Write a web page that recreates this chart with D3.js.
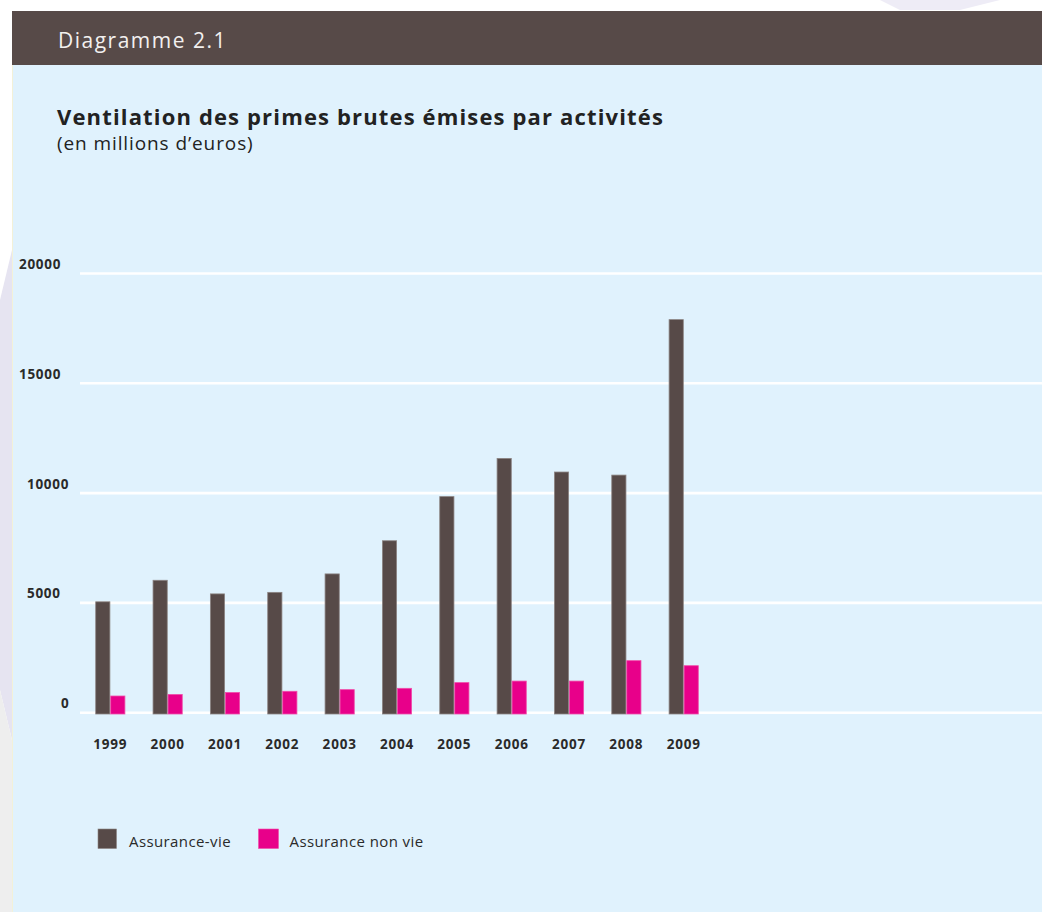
<!DOCTYPE html>
<html>
<head>
<meta charset="utf-8">
<script src="https://cdn.jsdelivr.net/npm/d3@7"></script>
<style>
  html, body { margin: 0; padding: 0; background: #ffffff; }
  svg { display: block; }
</style>
</head>
<body>
<svg id="chart" width="1042" height="912"></svg>
<script>
// ---- data ----
const years = ["1999", "2000", "2001", "2002", "2003", "2004", "2005", "2006", "2007", "2008", "2009"];
const assuranceVie = [5050, 6030, 5410, 5480, 6320, 7830, 9840, 11580, 10960, 10820, 17900];
const assuranceNonVie = [760, 830, 920, 975, 1050, 1110, 1370, 1440, 1440, 2370, 2140];
const yTicks = [0, 5000, 10000, 15000, 20000];
const seriesNames = ["Assurance-vie", "Assurance non vie"];
const seriesColors = ["#574a48", "#e8008a"];
const seriesStrokes = ["#8c8483", "#f04ca8"];
const headerText = "Diagramme 2.1";
const titleText = "Ventilation des primes brutes émises par activités";
const subtitleText = "(en millions d\u2019euros)";

// ---- drawing ----
const svg = d3.select("#chart");
const W = 1042, H = 912;
const font = "'Open Sans', 'Noto Sans', sans-serif";

// outer decorative background
svg.append("rect").attr("x", 0).attr("y", 0).attr("width", W).attr("height", H).attr("fill", "#ffffff");
svg.append("path").attr("d", "M0,300 L12,250 L12,740 L0,690 Z").attr("fill", "#e6e4f1");
svg.append("path").attr("d", "M0,690 L12,740 L12,912 L0,912 Z").attr("fill", "#eeeeee");
svg.append("path").attr("d", "M880,0 L1000,0 L960,10 L900,10 Z").attr("fill", "#eeecf6");

// panel
svg.append("rect").attr("x", 12).attr("y", 65).attr("width", W - 12).attr("height", H - 65).attr("fill", "#e0f2fd");
svg.append("line").attr("x1", 12.5).attr("x2", 12.5).attr("y1", 65).attr("y2", H).attr("stroke", "#f3f1d8").attr("stroke-width", 1);
svg.append("rect").attr("x", 12).attr("y", 11).attr("width", W - 12).attr("height", 54).attr("fill", "#574a48");
svg.append("text").attr("x", 58).attr("y", 47.5).text(headerText)
  .attr("font-family", font).attr("font-size", 21).attr("letter-spacing", 1.5).attr("fill", "#f2f0ef");

// titles
svg.append("text").attr("x", 57).attr("y", 125).text(titleText)
  .attr("font-family", font).attr("font-size", 22).attr("letter-spacing", 1.15)
  .attr("font-weight", 700).attr("fill", "#222222");
svg.append("text").attr("x", 57).attr("y", 150).text(subtitleText)
  .attr("font-family", font).attr("font-size", 19).attr("letter-spacing", 0.9).attr("fill", "#222222");

// scales
const y = d3.scaleLinear().domain([0, 20000]).range([712.7, 273.5]);
const x = d3.scaleBand().domain(years).range([80, 714]).paddingInner(0.477).paddingOuter(0.267);
const xs = d3.scaleBand().domain([0, 1]).range([0, x.bandwidth()]).padding(0);

// gridlines
svg.append("g").selectAll("line").data(yTicks).join("line")
  .attr("x1", 80).attr("x2", W)
  .attr("y1", d => y(d)).attr("y2", d => y(d))
  .attr("stroke", "#ffffff").attr("stroke-width", 2.6);

// y labels (positions mimic the original's uneven placement)
const yLabelX = v => (v === 0 ? 61 : v >= 15000 ? 19 : 27);
svg.append("g").selectAll("text").data(yTicks).join("text")
  .attr("x", d => yLabelX(d)).attr("y", d => y(d) - 4.6)
  .text(d => d3.format("d")(d))
  .attr("font-family", font).attr("font-size", 13.5).attr("letter-spacing", 0.7)
  .attr("font-weight", 700).attr("fill", "#2a2a2a");

// bars
const rows = years.map((yr, i) => ({ year: yr, values: [assuranceVie[i], assuranceNonVie[i]] }));
const groups = svg.append("g").selectAll("g").data(rows).join("g")
  .attr("transform", d => `translate(${x(d.year)},0)`);
groups.selectAll("rect").data(d => d.values.map((v, k) => ({ v, k }))).join("rect")
  .attr("x", d => xs(d.k) + 0.4)
  .attr("width", xs.bandwidth() - 0.8)
  .attr("y", d => y(d.v))
  .attr("height", d => y(0) + 1.3 - y(d.v))
  .attr("fill", d => seriesColors[d.k])
  .attr("stroke", d => seriesStrokes[d.k])
  .attr("stroke-width", 0.8);

// x labels
svg.append("g").selectAll("text").data(years).join("text")
  .attr("x", d => x(d) + x.bandwidth() / 2).attr("y", 749)
  .attr("text-anchor", "middle").text(d => d)
  .attr("font-family", font).attr("font-size", 13.5).attr("letter-spacing", 0.8)
  .attr("font-weight", 700).attr("fill", "#2a2a2a");

// legend
const legendX = [98, 258.5];
const legend = svg.append("g").selectAll("g").data(seriesNames).join("g")
  .attr("transform", (d, i) => `translate(${legendX[i]},829)`);
legend.append("rect").attr("width", (d, i) => i === 0 ? 18.5 : 20).attr("height", 19.5)
  .attr("fill", (d, i) => seriesColors[i]).attr("stroke", (d, i) => seriesStrokes[i]).attr("stroke-width", 0.6);
legend.append("text").attr("x", 31).attr("y", 17.7).text(d => d)
  .attr("font-family", font).attr("font-size", 15).attr("letter-spacing", 0.4).attr("fill", "#2a2a2a");
</script>
</body>
</html>
